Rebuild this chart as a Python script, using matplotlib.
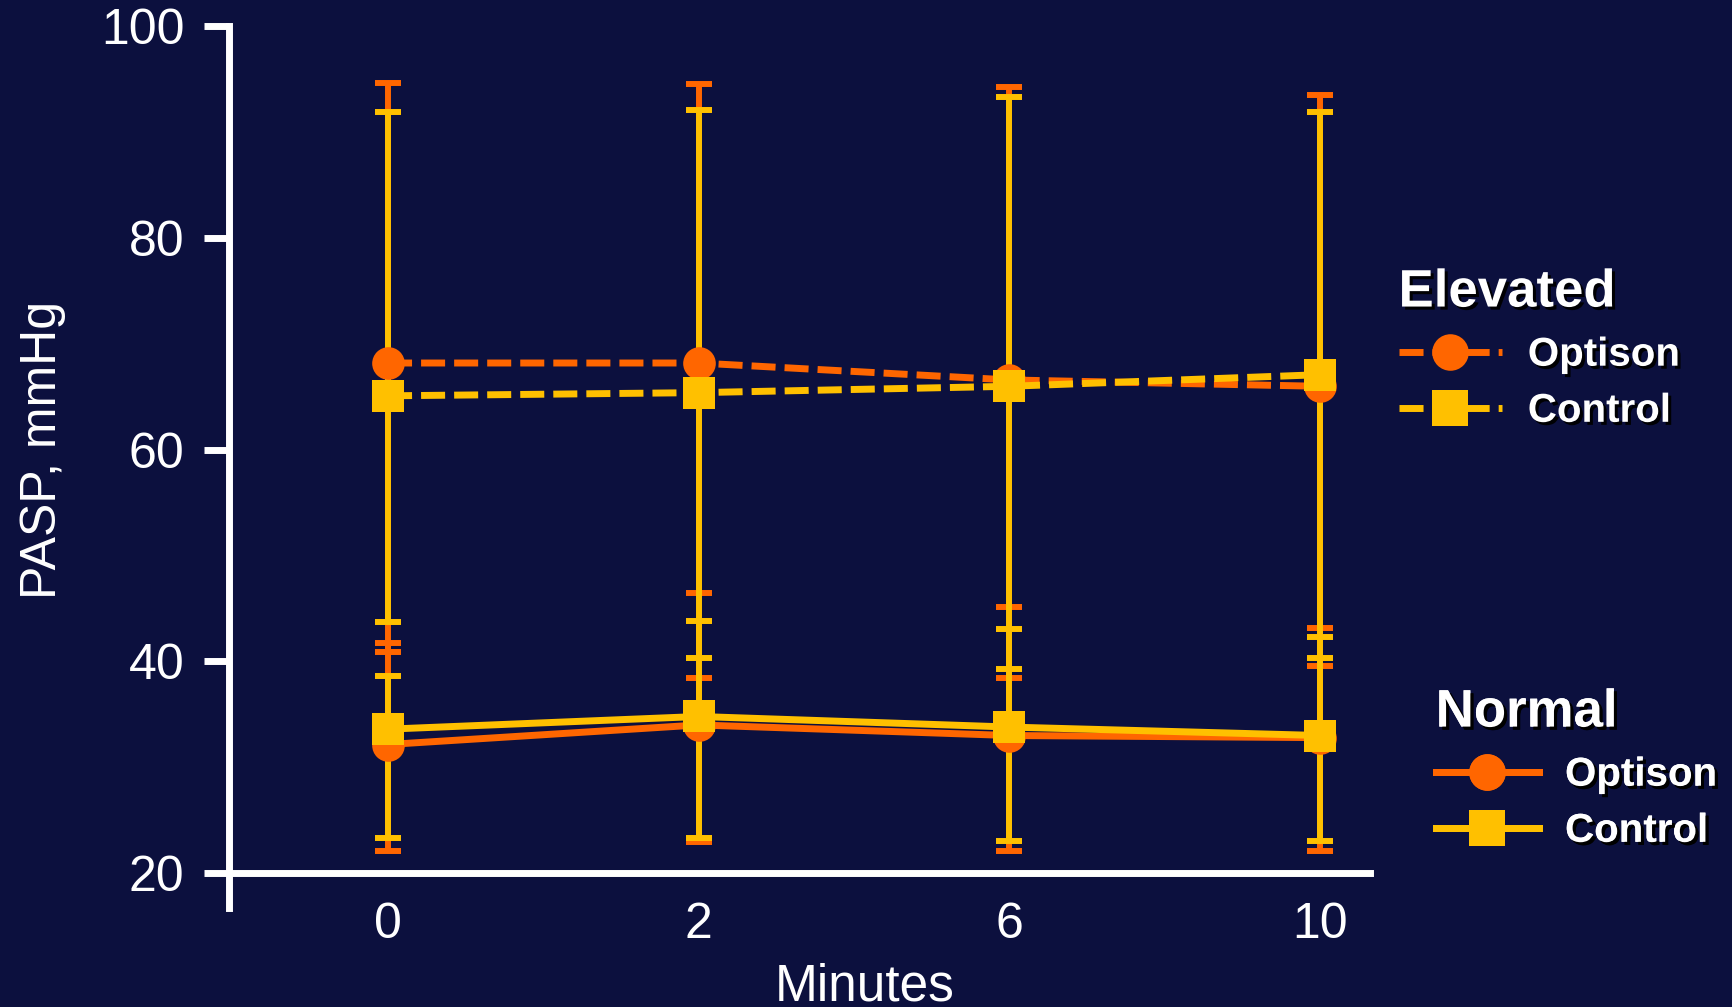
import matplotlib
matplotlib.use("Agg")
import matplotlib.pyplot as plt
import matplotlib.patheffects as pe
import numpy as np

# Time points (minutes)
minutes = ["0", "2", "6", "10"]

# Elevated group
elev_optison_mean = [68.2, 68.2, 66.6, 66.0]
elev_optison_hi = [94.7, 94.6, 94.3, 93.5]
elev_optison_lo = [40.9, 46.5, 45.1, 43.2]
elev_control_mean = [65.1, 65.4, 66.0, 67.1]
elev_control_hi = [91.9, 92.15, 93.3, 91.9]
elev_control_lo = [43.7, 40.3, 39.3, 40.3]

# Normal group
norm_optison_mean = [32.15, 34.0, 33.0, 32.8]
norm_optison_hi = [41.7, 38.4, 38.4, 39.6]
norm_optison_lo = [22.1, 22.9, 22.1, 22.1]
norm_control_mean = [33.6, 34.8, 33.8, 33.0]
norm_control_hi = [38.6, 43.8, 43.1, 42.3]
norm_control_lo = [23.3, 23.3, 23.0, 23.0]

BG = "#0C103E"
ORANGE = "#FF6600"
YELLOW = "#FFC000"
FONT = "Liberation Sans"

plt.rcParams["font.family"] = [FONT, "DejaVu Sans"]

fig = plt.figure(figsize=(17.33, 10.07), dpi=100, facecolor=BG)
ax = fig.add_axes([0.1321, 0.0983, 0.7905 - 0.1321, 0.9737 - 0.0983])
ax.set_facecolor(BG)

x = np.arange(len(minutes))


def draw_series(mean, lo, hi, color, ls, marker, z):
    mean = np.asarray(mean)
    yerr = np.vstack([mean - np.asarray(lo), np.asarray(hi) - mean])
    ax.errorbar(x, mean, yerr=yerr, fmt="none", ecolor=color, elinewidth=4.3,
                capsize=9.6, capthick=4.3, zorder=z)
    (line,) = ax.plot(x, mean, color=color, lw=5, ls=ls, marker=marker,
                      ms=23.5, mec=color, mew=0, zorder=z + 10)
    return line


dash = (0, (3.46, 1.3))
l_no = draw_series(norm_optison_mean, norm_optison_lo, norm_optison_hi, ORANGE, "-", "o", 2)
l_eo = draw_series(elev_optison_mean, elev_optison_lo, elev_optison_hi, ORANGE, dash, "o", 3)
l_nc = draw_series(norm_control_mean, norm_control_lo, norm_control_hi, YELLOW, "-", "s", 4)
l_ec = draw_series(elev_control_mean, elev_control_lo, elev_control_hi, YELLOW, dash, "s", 5)

# Axes styling
ax.set_xlim(-0.512, 3.16)
ax.set_ylim(16.7, 100)
ax.set_yticks([20, 40, 60, 80, 100])
ax.set_xticks(x)
ax.set_xticklabels(minutes)
for side in ("top", "right"):
    ax.spines[side].set_visible(False)
ax.spines["bottom"].set_position(("data", 20))
for side in ("left", "bottom"):
    ax.spines[side].set_color("white")
    ax.spines[side].set_linewidth(5)
ax.tick_params(axis="y", colors="white", labelsize=36, length=18, width=5, pad=14)
ax.tick_params(axis="x", colors="white", labelsize=36, length=0, pad=21)
ax.set_xlabel("Minutes", color="white", fontsize=37, labelpad=10)
ax.xaxis.label.set_x(0.557)
ax.set_ylabel("PASP, mmHg", color="white", fontsize=36)
ax.yaxis.set_label_coords(-0.143, 0.52)

shadow = [pe.SimplePatchShadow(offset=(2.2, -2.2), shadow_rgbFace="black", alpha=0.95),
          pe.Normal()]


def make_legend(handles, title, anchor):
    leg = ax.legend(handles=handles, labels=["Optison", "Control"], title=title,
                    loc="upper left", bbox_to_anchor=anchor,
                    bbox_transform=fig.transFigure, frameon=False,
                    prop={"family": FONT, "weight": "bold", "size": 29},
                    title_fontproperties={"family": FONT, "weight": "bold", "size": 38},
                    handlelength=2.56, handletextpad=0.65, labelspacing=0.45,
                    alignment="left", markerscale=1.12, borderpad=0,
                    borderaxespad=0)
    leg.get_title().set_color("white")
    leg.get_title().set_path_effects(shadow)
    for t in leg.get_texts():
        t.set_color("white")
        t.set_path_effects(shadow)
    ax.add_artist(leg)
    return leg


make_legend([l_eo, l_ec], "Elevated", (0.807, 0.7343))
make_legend([l_no, l_nc], "Normal", (0.8285, 0.3172))

fig.savefig("out.png", dpi=100, facecolor=BG)
